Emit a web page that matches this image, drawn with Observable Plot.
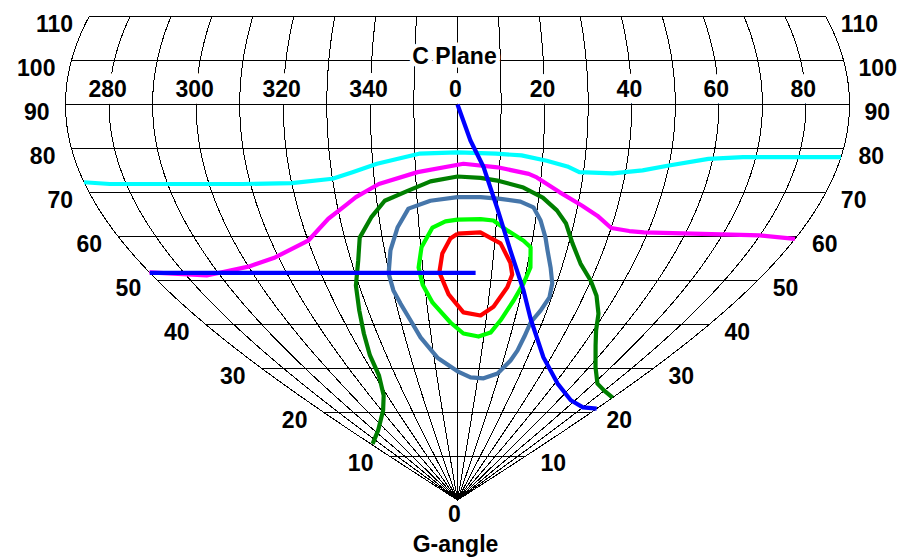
<!DOCTYPE html>
<html><head><meta charset="utf-8">
<script src="https://cdn.jsdelivr.net/npm/d3@7"></script>
<script src="https://cdn.jsdelivr.net/npm/@observablehq/plot@0.6"></script>
<style>body{margin:0;background:#fff}</style>
</head><body><div id="chart"></div>
<script>
// C-plane tick positions (degrees, negative = 360-C) and their labels
const cPlaneTicks = [-80, -60, -40, -20, 0, 20, 40, 60, 80];
const cPlaneLabels = ["280", "300", "320", "340", "0", "20", "40", "60", "80"];
// G-angle ticks
const gAngleTicks = [10, 20, 30, 40, 50, 60, 70, 80, 90, 100, 110];

// Curves as [C, G] pairs
const cyanCurve = [[-90,72.3],[-84,71.9],[-52,71.9],[-40,72.1],[-30,73.1],[-25,74.6],[-19,76.5],[-9,78.8],[0,79.1],[9,78.8],[15,78.4],[21,77.2],[26,75.9],[29,74.6],[37,74.3],[44,75.0],[50,76.1],[59,77.6],[67,78.0],[90,78.0]];
const magentaCurve = [[-90,51.8],[-74,51.1],[-60,53.1],[-51,55.2],[-40,59.0],[-33,64.0],[-28,67.0],[-25,68.9],[-19,71.9],[-9.5,74.6],[1.4,76.5],[9.5,75.7],[17,74.2],[19,73.4],[25,70.0],[31,67.0],[35.5,64.7],[40,61.9],[45,61.2],[49,60.9],[80,60.2],[90,59.4]];
const darkGreenCurve = [[-88,12.8],[-67,15.8],[-49,20.4],[-42,23.8],[-38,28.3],[-37,32.9],[-35,37.9],[-33,43.1],[-31,48.8],[-28,54.5],[-26,59.7],[-22,64.3],[-18,68.1],[-12,70.4],[-6.5,72.5],[0,73.6],[5.5,73.3],[10,72.6],[16,71.1],[21,68.8],[25,65.9],[28,62.9],[31,58.4],[35,53.8],[40,49.9],[44,46.5],[48,42.4],[51,38.6],[55,35.2],[63,30.2],[72,26.5],[80,24.9],[90,23.3]];
const steelCurve = [[0,68.9],[5.7,68.9],[10.6,68.5],[15.6,67.9],[19,66.6],[21.3,63.6],[23.4,59.7],[24.7,56.8],[26.8,52.9],[28.7,49.3],[29.3,46.1],[27.9,43.1],[25.9,40.4],[25.4,37.2],[24.6,34],[23.1,31.7],[19.1,28.8],[12.9,27.7],[6.4,27.9],[0,29.3],[-8.6,32.4],[-14.1,37],[-16.5,40.9],[-18.6,44.7],[-19.9,47.7],[-20.2,51.5],[-18.4,56.8],[-15.6,62],[-12.3,66.3],[-6.7,68.1],[0,68.9]];
const limeCurve = [[0,63.8],[5.9,63.9],[9.2,63.6],[13.1,61.3],[17.7,59],[19.9,57.5],[21,52.9],[20,49.3],[18.1,45.4],[15.1,40.9],[12.3,38.1],[8,37.2],[2.2,37.9],[-2.5,40.4],[-8.1,44.9],[-10.6,49],[-11.2,52.9],[-9.8,57.5],[-6.5,62],[-3.1,63.4],[0,63.8]];
const redCurve = [[0,60.6],[6,60.9],[11.6,58.4],[15,54],[16.1,51.3],[15.3,48.4],[11.9,44],[7.9,42],[2,42.7],[-2.8,46.8],[-5.3,51.8],[-4.2,56.1],[-1.9,59.5],[0,60.6]];
const blueMaxLine = [[0,90],[3,81.8],[6.2,75.7],[10,66.3],[14.5,56.8],[20.5,47.7],[25.4,41.3],[36.7,32.5],[51.5,26.5],[67.4,22.7],[80,21.1],[90,20.8]];
const blueHorizontal = [[-90,51.7],[5.3,51.7]];

const rad = Math.PI / 180;
const px = d => d[0] * Math.sin(d[1] * rad);
const py = d => d[1];

// graticule (meridians every 10° of C)
const meridianCs = d3.range(-90, 91, 10);
const meridianPts = meridianCs.flatMap(c => d3.range(0, 110.01, 0.5).map(g => [c, g]));

const font = {fontFamily: "Liberation Sans, Arial, sans-serif", fontSize: 23, fontWeight: "bold"};
const curve = (data, color) => Plot.line(data, {x: px, y: py, stroke: color, strokeWidth: 4.2, strokeLinejoin: "round", strokeLinecap: "butt"});

const chart = Plot.plot({
  width: 901,
  height: 559,
  marginLeft: 65,
  marginRight: 52,
  marginTop: 16,
  marginBottom: 59.4,
  x: {domain: [-90, 90], axis: null},
  y: {domain: [0, 110], axis: null},
  style: {background: "white", overflow: "visible"},
  marks: [
    Plot.line(meridianPts, {x: px, y: py, z: d => d[0], stroke: "black", strokeWidth: 1, shapeRendering: "crispEdges"}),
    Plot.text(cPlaneTicks, {x: c => c * Math.sin(93.4 * rad), y: () => 93.4, text: (c, i) => cPlaneLabels[i], ...font, dx: -2, lineAnchor: "middle", stroke: "white", strokeWidth: 14, fill: "black"}),
    Plot.link(gAngleTicks, {x1: g => -90 * Math.sin(g * rad), x2: g => 90 * Math.sin(g * rad), y1: g => g, y2: g => g, stroke: "black", strokeWidth: 1, shapeRendering: "crispEdges"}),
    Plot.text(["C Plane"], {x: () => 0, y: () => 100, text: d => d, ...font, dx: -3, dy: -13, lineAnchor: "top", stroke: "white", strokeWidth: 8, fill: "black"}),
    curve(cyanCurve, "#00ffff"),
    curve(magentaCurve, "#ff00ff"),
    curve(darkGreenCurve, "#007f00"),
    curve(steelCurve, "#4676aa"),
    curve(limeCurve, "#00ff00"),
    curve(redCurve, "#ff0000"),
    curve(blueMaxLine, "#0000ff"),
    curve(blueHorizontal, "#0000ff"),
    Plot.text(gAngleTicks, {x: g => -90 * Math.sin(g * rad), y: g => g, text: g => String(g), ...font, textAnchor: "end", lineAnchor: "top", dx: -16, dy: -1}),
    Plot.text(gAngleTicks, {x: g => 90 * Math.sin(g * rad), y: g => g, text: g => String(g), ...font, textAnchor: "start", lineAnchor: "top", dx: 15, dy: -1}),
    Plot.text(["0"], {x: () => 0, y: () => 0, text: d => d, ...font, dx: -3, dy: 5.5, lineAnchor: "top"}),
    Plot.text(["G-angle"], {x: () => 0, y: () => 0, text: d => d, ...font, dx: -2, dy: 35.5, lineAnchor: "top"})
  ]
});
document.getElementById("chart").appendChild(chart);
</script>
</body></html>
